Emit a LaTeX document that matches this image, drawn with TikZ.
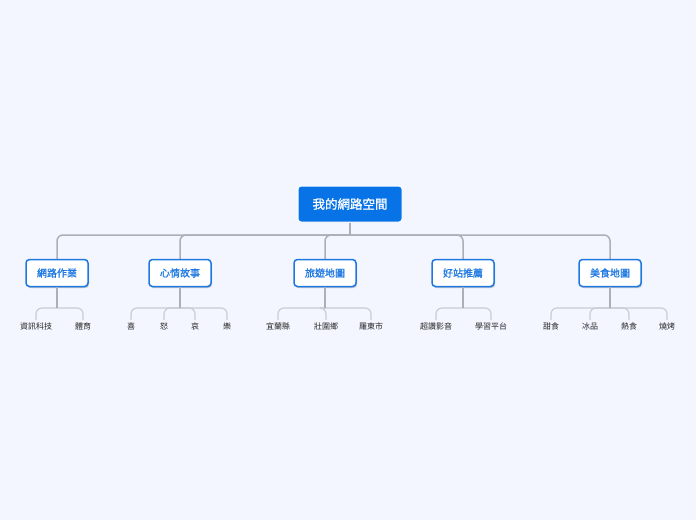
\documentclass[tikz,border=0pt]{standalone}
\usepackage{fontspec}
\newfontfamily\cjk[AutoFakeBold=1.2]{Noto Sans CJK TC}
\usetikzlibrary{shadows}
\definecolor{bg}{RGB}{243,246,254}
\definecolor{rootblue}{RGB}{8,115,230}
\definecolor{childblue}{RGB}{30,120,225}
\definecolor{lineone}{RGB}{172,175,184}
\definecolor{linetwo}{RGB}{200,204,212}
\begin{document}
\begin{tikzpicture}[x=1pt,y=-1pt,
 rootbox/.style={fill=rootblue, draw=white, line width=1pt, rounded corners=3pt, minimum width=104pt, minimum height=36pt, text=white, font=\cjk\bfseries\fontsize{12.5}{14}\selectfont, inner sep=0pt},
 childbox/.style={fill=white, draw=childblue, line width=1.5pt, rounded corners=3.5pt, minimum width=62pt, minimum height=27pt, text=childblue, font=\cjk\bfseries\fontsize{10}{12}\selectfont, inner sep=0pt, drop shadow={shadow xshift=1pt, shadow yshift=-1.5pt, opacity=0.35, fill=black!60}},
 leaf/.style={font=\cjk\fontsize{8}{10}\selectfont, text=black!85, inner sep=1pt},
 connone/.style={draw=lineone, line width=1.5pt, rounded corners=6pt},
 conntwo/.style={draw=linetwo, line width=1.2pt, rounded corners=6pt}]
\path[fill=bg] (0,0) rectangle (696,520);
\useasboundingbox (0,0) rectangle (696,520);

\coordinate (hub) at (350,235);
\coordinate (b1) at (57,308);
\coordinate (b2) at (180,308);
\coordinate (b3) at (325,308);
\coordinate (b4) at (463,308);
\coordinate (b5) at (610,308);

% connectors level 1
\draw[connone] (hub) -| (57,260);
\draw[connone] (hub) -| (180,260);
\draw[connone] (hub) -| (325,260);
\draw[connone] (hub) -| (463,260);
\draw[connone] (hub) -| (610,260);

\node[rootbox] (root) at (350,204) {我的網路空間};
\draw[connone] (root.south) -- (hub);

\node[childbox] (c1) at (57,273) {網路作業};
\node[childbox] (c2) at (180,273) {心情故事};
\node[childbox] (c3) at (325,273) {旅遊地圖};
\node[childbox] (c4) at (463,273) {好站推薦};
\node[childbox] (c5) at (610,273) {美食地圖};

\node[leaf] (l11) at (36,326) {資訊科技};
\node[leaf] (l12) at (83,326) {體育};
\node[leaf] (l21) at (131,326) {喜};
\node[leaf] (l22) at (164,326) {怒};
\node[leaf] (l23) at (195,326) {哀};
\node[leaf] (l24) at (227,326) {樂};
\node[leaf] (l31) at (278,326) {宜蘭縣};
\node[leaf] (l32) at (326,326) {壯圍鄉};
\node[leaf] (l33) at (371,326) {羅東市};
\node[leaf] (l41) at (436,326) {超讚影音};
\node[leaf] (l42) at (491,326) {學習平台};
\node[leaf] (l51) at (551,326) {甜食};
\node[leaf] (l52) at (590,326) {冰品};
\node[leaf] (l53) at (629,326) {熱食};
\node[leaf] (l54) at (667,326) {燒烤};

% leaf connectors
\foreach \c/\l in {b1/l11,b1/l12,b2/l21,b2/l22,b2/l23,b2/l24,b3/l31,b3/l32,b3/l33,b4/l41,b4/l42,b5/l51,b5/l52,b5/l53,b5/l54}
  \draw[conntwo] (\c) -| ([yshift=1pt]\l.north);
\foreach \p/\c in {c1/b1,c2/b2,c3/b3,c4/b4,c5/b5}
  \draw[connone] (\p.south) -- (\c);
\end{tikzpicture}
\end{document}
